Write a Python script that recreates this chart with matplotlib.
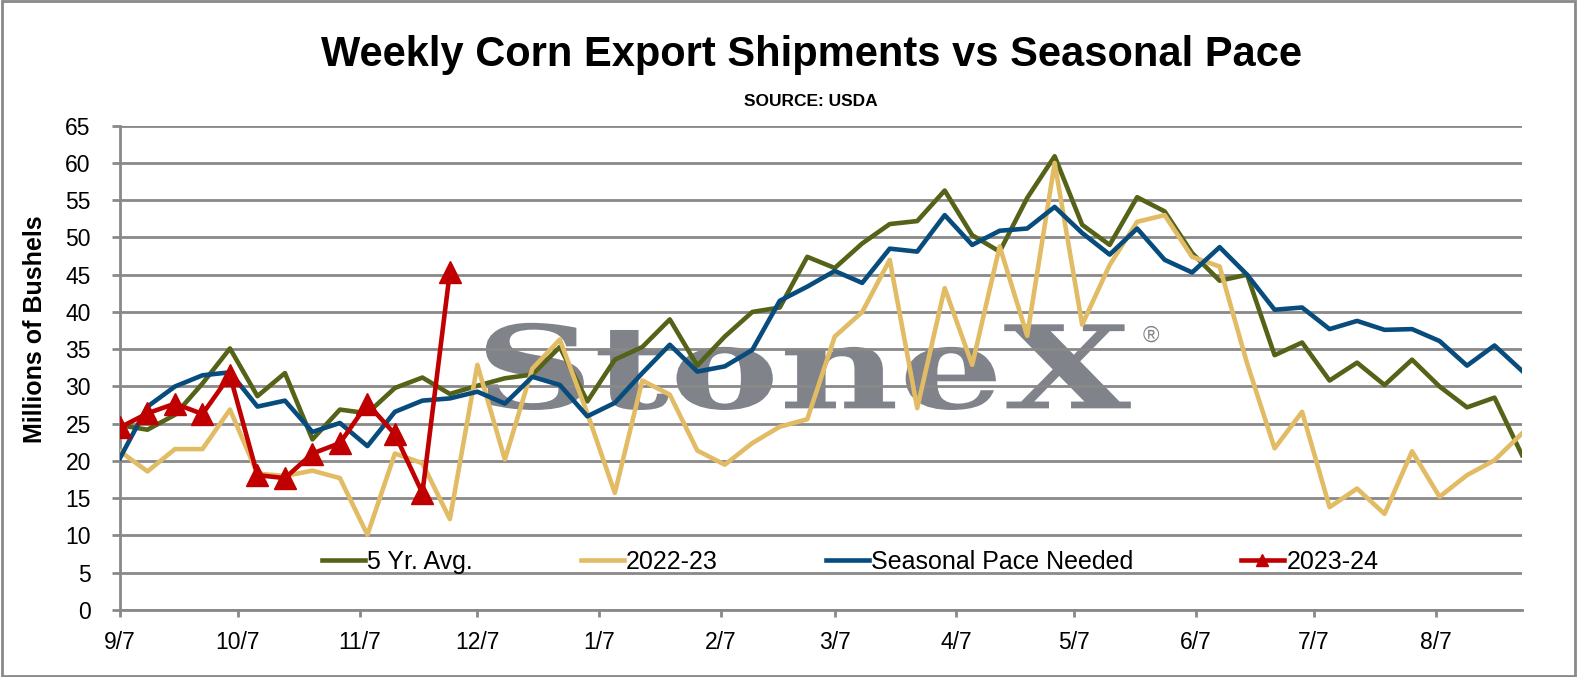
import matplotlib
matplotlib.use("Agg")
import matplotlib.pyplot as plt
import matplotlib.dates as mdates
from matplotlib.textpath import TextPath
from matplotlib.patches import PathPatch, Rectangle
from matplotlib.font_manager import FontProperties
from matplotlib.transforms import Affine2D
import pandas as pd

plt.rcParams['font.family'] = ['Liberation Sans', 'DejaVu Sans']

# weekly values, week 1 = 9/7
weeks = pd.date_range('2023-09-07', periods=52, freq='7D')

five_yr_avg = [24.8, 24.2, 26.2, 30.4, 35.1, 28.7, 31.8, 22.9, 26.9, 26.4,
               29.8, 31.2, 29.0, 30.1, 31.1, 31.6, 35.3, 28.0, 33.6, 35.3,
               39.0, 32.8, 36.7, 40.0, 40.6, 47.4, 45.9, 49.2, 51.8, 52.2,
               56.3, 50.3, 48.1, 55.3, 60.9, 51.7, 49.0, 55.4, 53.5, 47.9,
               44.2, 45.0, 34.2, 35.9, 30.8, 33.2, 30.2, 33.6, 30.0, 27.2,
               28.5, 20.8]
y2022_23 = [21.3, 18.6, 21.6, 21.6, 26.9, 18.3, 18.0, 18.7, 17.7, 10.1,
            21.0, 19.7, 12.2, 32.9, 20.2, 32.4, 36.3, 26.4, 15.7, 30.8,
            28.9, 21.4, 19.5, 22.4, 24.6, 25.6, 36.7, 40.0, 47.0, 27.1,
            43.2, 32.9, 48.8, 36.8, 60.0, 38.3, 46.3, 52.1, 53.0, 47.4,
            46.1, 33.1, 21.7, 26.6, 13.8, 16.3, 12.9, 21.3, 15.2, 18.1,
            20.1, 23.7]
pace_needed = [20.4, 27.3, 30.0, 31.5, 31.9, 27.3, 28.1, 23.9, 25.1, 22.0,
               26.6, 28.1, 28.4, 29.3, 27.7, 31.3, 30.2, 26.0, 27.8, 31.8,
               35.6, 32.0, 32.7, 34.9, 41.5, 43.4, 45.5, 43.9, 48.5, 48.1,
               53.0, 49.0, 50.9, 51.2, 54.1, 50.6, 47.7, 51.2, 47.0, 45.3,
               48.7, 45.0, 40.3, 40.6, 37.7, 38.8, 37.6, 37.7, 36.1, 32.8,
               35.5, 32.1]
y2023_24 = [24.5, 26.4, 27.7, 26.3, 31.5, 18.1, 17.7, 21.0, 22.4, 27.7,
            23.6, 15.7, 45.4]

GRID = '#898989'

fig = plt.figure(figsize=(15.77, 6.77), dpi=100)
ax = fig.add_axes([120 / 1577, 1 - 610 / 677, 1402 / 1577, 484.3 / 677])

ax.plot(weeks, five_yr_avg, color='#556318', lw=3.3, label='5 Yr. Avg.', zorder=3)
ax.plot(weeks, y2022_23, color='#E2BB65', lw=3.3, label='2022-23', zorder=3)
ax.plot(weeks, pace_needed, color='#084C7E', lw=3.3, label='Seasonal Pace Needed', zorder=3)
ax.plot(weeks[:len(y2023_24)], y2023_24, color='#C00000', lw=3.3, marker='^',
        markersize=16, label='2023-24', zorder=4)

ax.set_ylim(0, 65)
ax.set_yticks(range(0, 66, 5))
ax.set_xlim(weeks[0], weeks[-1])
ax.xaxis.set_major_locator(mdates.MonthLocator(bymonthday=7))
ax.xaxis.set_major_formatter(plt.FuncFormatter(
    lambda v, p: f"{mdates.num2date(v).month}/{mdates.num2date(v).day}"))

ax.grid(axis='y', color=GRID, lw=2)
for s in ['top', 'right']:
    ax.spines[s].set_visible(False)
for s in ['left', 'bottom']:
    ax.spines[s].set_color(GRID)
    ax.spines[s].set_linewidth(2)
ax.tick_params(axis='both', colors=GRID, width=2, labelcolor='black', labelsize=16.5)
ax.tick_params(axis='y', length=6, pad=15)
ax.tick_params(axis='x', length=5, pad=10)

# watermark
tp = TextPath((0, 0), 'StoneX', prop=FontProperties(family='DejaVu Serif', weight='bold'))
ext = tp.get_extents()
x0, x1, y0, y1 = 0.261, 0.721, 0.413, 0.593
tr = (Affine2D().translate(-ext.x0, -ext.y0)
      .scale((x1 - x0) / ext.width, (y1 - y0) / ext.height)
      .translate(x0, y0) + ax.transAxes)
ax.add_patch(PathPatch(tp, transform=tr, facecolor='#80838A', edgecolor='none', zorder=1))
ax.text(0.735, 0.565, '®', transform=ax.transAxes, fontsize=16, color='#80838A',
        ha='center', va='center', zorder=1)

ax.legend(loc='center left', bbox_to_anchor=(0.144, 0.10), ncol=4, frameon=False,
          fontsize=18, handlelength=1.72, handletextpad=0.1, columnspacing=4.3,
          borderpad=0, borderaxespad=0, markerscale=0.5)

fig.text(811 / 1577, 1 - 55 / 677, 'Weekly Corn Export Shipments vs Seasonal Pace',
         ha='center', va='center', fontsize=30, fontweight='bold')
fig.text(811 / 1577, 1 - 101 / 677, 'SOURCE: USDA', ha='center', va='center',
         fontsize=12.5, fontweight='bold')
fig.text(35 / 1577, 1 - 329 / 677, 'Millions of Bushels', rotation=90,
         ha='center', va='center', fontsize=18, fontweight='bold')

fig.patches.append(Rectangle((0.001, 0.002), 0.998, 0.996, transform=fig.transFigure,
                             fill=False, edgecolor=GRID, lw=2))

fig.savefig('out.png', dpi=100)
